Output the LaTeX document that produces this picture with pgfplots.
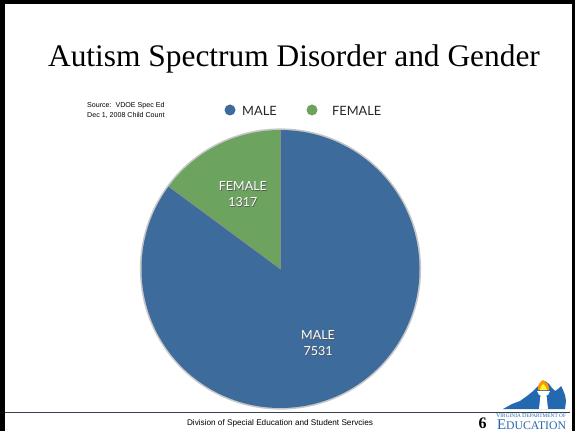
\documentclass[border=0pt]{standalone}
\usepackage{fontspec}
\setmainfont{Liberation Serif}
\newfontfamily\gill{Lato}
\newfontfamily\arial{Liberation Sans}
\usepackage{pgfplots}
\usepackage{pgfplotstable}
\pgfplotsset{compat=1.18}
\definecolor{maleblue}{HTML}{3D6B9B}
\definecolor{femalegreen}{HTML}{6BA35F}
\definecolor{logoblue}{HTML}{2468B0}
\definecolor{footline}{HTML}{3A4050}

\pgfplotstableread{
gender count
MALE 7531
FEMALE 1317
}\piedata
\pgfplotstablegetelem{0}{count}\of\piedata \edef\male{\pgfplotsretval}
\pgfplotstablegetelem{1}{count}\of\piedata \edef\female{\pgfplotsretval}
\pgfmathsetmacro\ffrac{\female/(\male+\female)}
\pgfmathsetmacro\fangle{360*\ffrac}
\pgfmathsetmacro\fend{90+\fangle}
\pgfmathsetmacro\fmid{90+\fangle/2}
\pgfmathsetmacro\mmid{90+\fangle+(360-\fangle)/2}

\begin{document}
\begin{tikzpicture}[x=1pt,y=1pt]
\useasboundingbox (0,0) rectangle (575,431);
\fill[white] (0,0) rectangle (575,431);
% frame
\fill[black] (0,0) rectangle (5,431);
\fill[black] (0,426.5) rectangle (575,431);
\fill[black] (572,0) rectangle (575,431);
% title
\node[font=\fontsize{31.4}{32}\selectfont, anchor=base, inner sep=0pt] at (294,364) {Autism Spectrum Disorder and Gender};
% source
\node[font=\arial\fontsize{7.1}{8}\selectfont, anchor=base west, inner sep=0pt] at (87,323.5) {Source:\ \ VDOE Spec Ed};
\node[font=\arial\fontsize{7.1}{8}\selectfont, anchor=base west, inner sep=0pt] at (87,313.5) {Dec 1, 2008 Child Count};
% legend
\fill[maleblue] (230,321) circle[radius=5.5];
\node[font=\gill\fontsize{12.8}{13}\selectfont, anchor=base west, inner sep=0pt, text=black!85] at (242,315.3) {MALE};
\fill[femalegreen] (312,321) circle[radius=5.5];
\node[font=\gill\fontsize{12.8}{13}\selectfont, anchor=base west, inner sep=0pt, text=black!85] at (332,315.3) {FEMALE};

\begin{axis}[hide axis, scale only axis, x=139pt, y=139pt,
  xmin=-1, xmax=1, ymin=-1, ymax=1,
  anchor=center, at={(280.5pt,162pt)}, clip=false]
\fill[black!22] (axis cs:0,0) circle[radius=140.6pt];
\fill[maleblue] (axis cs:0,0) -- (axis cs:{cos(\fend)},{sin(\fend)}) arc[start angle=\fend, end angle=450, radius=139pt] -- cycle;
\fill[femalegreen] (axis cs:0,0) -- (axis cs:0,1) arc[start angle=90, end angle=\fend, radius=139pt] -- cycle;
\draw[black!45, line width=0.6pt] (axis cs:0,1) -- (axis cs:0,0) -- (axis cs:{cos(\fend)},{sin(\fend)});
% labels
\node[font=\gill\fontsize{12.5}{16}\selectfont, align=center, text=black!65] at (axis cs:{0.6*cos(\fmid)+0.005},{0.6*sin(\fmid)-0.005}) {FEMALE\\\female};
\node[font=\gill\fontsize{12.5}{16}\selectfont, align=center, text=white] at (axis cs:{0.6*cos(\fmid)},{0.6*sin(\fmid)}) {FEMALE\\\female};
\node[font=\gill\fontsize{12.5}{16}\selectfont, align=center, text=black!65] at (axis cs:{0.6*cos(\mmid)+0.005},{0.6*sin(\mmid)-0.005}) {MALE\\\male};
\node[font=\gill\fontsize{12.5}{16}\selectfont, align=center, text=white] at (axis cs:{0.6*cos(\mmid)},{0.6*sin(\mmid)}) {MALE\\\male};
\end{axis}

% footer
\draw[footline, line width=0.9pt] (5,19) -- (570,19);
\node[font=\arial\fontsize{8.2}{9}\selectfont, anchor=base, inner sep=0pt] at (280,5.5) {Division of Special Education and Student Servcies};
\node[font=\bfseries\fontsize{16}{16}\selectfont, anchor=base, inner sep=0pt] at (482.5,2.8) {6};
% logo
\fill[logoblue] (503,22) -- (512,27) -- (520,30) -- (527,35) -- (532,39) -- (537,44) -- (541,48) -- (545,50) -- (549,47) -- (552,43) -- (555,40) -- (558,42) -- (561,45) -- (563,41) -- (565,36) -- (566,30) -- (565,22) -- cycle;
\fill[white] (539,22) -- (540.5,36) -- (546.5,36) -- (548,22) -- cycle;
\fill[white] (537,40) -- (550,40) -- (548,36) -- (539,36) -- cycle;
\fill[orange!80!yellow] (538,41) .. controls (537,46) and (541,50) .. (543,51) .. controls (546,49) and (550,46) .. (549,41) -- cycle;
\fill[yellow!80!white] (540,41) .. controls (540,44) and (542,46) .. (543.5,47) .. controls (545,45) and (547,43) .. (547,41) -- cycle;
\node[font=\fontsize{4.6}{5}\selectfont, text=logoblue, anchor=base, inner sep=0pt] at (531,14) {\resizebox{70pt}{!}{V\fontsize{4}{5}\selectfont IRGINIA \fontsize{4.6}{5}\selectfont D\fontsize{4}{5}\selectfont EPARTMENT OF}};
\node[text=logoblue, anchor=base, inner sep=0pt] at (531.5,2) {\resizebox{69pt}{!}{\fontsize{14}{14}\selectfont E\fontsize{11}{11}\selectfont DUCATION}};
\end{tikzpicture}
\end{document}
